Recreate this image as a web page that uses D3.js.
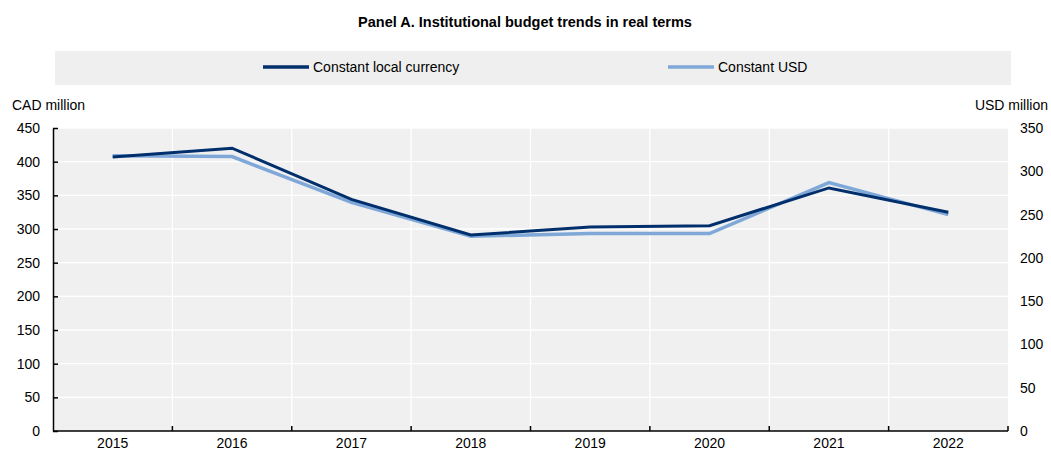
<!DOCTYPE html>
<html>
<head>
<meta charset="utf-8">
<script src="https://cdn.jsdelivr.net/npm/d3@7"></script>
<style>
  html, body { margin: 0; padding: 0; background: #fff; }
  svg { display: block; }
  text { font-family: "Liberation Sans Narrow", "Arial Narrow", "Liberation Sans", Arial, sans-serif; fill: #000; }
</style>
</head>
<body>
<svg id="chart" width="1051" height="452"></svg>
<script>
// Years on the x axis
const years = ["2015", "2016", "2017", "2018", "2019", "2020", "2021", "2022"];
// Institutional budget, constant local currency (CAD million, left axis)
const cadValues = [407, 420, 344, 291, 303, 305, 361, 325];
// Institutional budget, constant USD (USD million, right axis)
const usdValues = [318, 317, 264, 225, 228, 228, 287, 250];
// Axis tick values
const leftTicks = [0, 50, 100, 150, 200, 250, 300, 350, 400, 450];
const rightTicks = [0, 50, 100, 150, 200, 250, 300, 350];

const svg = d3.select("#chart");
const margin = { left: 53, right: 43, top: 128, bottom: 21 };
const W = 1051, H = 452;
const x0 = margin.left, x1 = W - margin.right;
const y0 = H - margin.bottom, y1 = margin.top;

const x = d3.scaleBand().domain(years).range([x0, x1]).padding(0);
const yL = d3.scaleLinear().domain([0, 450]).range([y0, y1]);
const yR = d3.scaleLinear().domain([0, 350]).range([y0, y1]);

// Title
svg.append("text")
  .attr("x", 525).attr("y", 27)
  .attr("text-anchor", "middle")
  .style("font-size", "14.5px").style("font-weight", "bold")
  .text("Panel A. Institutional budget trends in real terms");

// Legend
const legendItems = [
  { name: "Constant local currency", color: "#002f6c", x: 263 },
  { name: "Constant USD", color: "#7fa8d9", x: 668 }
];
svg.append("rect")
  .attr("x", 55).attr("y", 51).attr("width", 956).attr("height", 34)
  .attr("fill", "#efefef");
const lg = svg.selectAll(".lg").data(legendItems).enter().append("g");
lg.append("line")
  .attr("x1", d => d.x).attr("x2", d => d.x + 46)
  .attr("y1", 67).attr("y2", 67)
  .attr("stroke", d => d.color).attr("stroke-width", 3.5);
lg.append("text")
  .attr("x", d => d.x + 50).attr("y", 72)
  .style("font-size", "14px")
  .text(d => d.name);

// Plot background
svg.append("rect")
  .attr("x", x0).attr("y", y1).attr("width", x1 - x0).attr("height", y0 - y1)
  .attr("fill", "#f0f0f0");

// Horizontal gridlines
svg.append("g").selectAll("line").data(leftTicks.filter(d => d > 0)).enter().append("line")
  .attr("x1", x0).attr("x2", x1)
  .attr("y1", d => yL(d)).attr("y2", d => yL(d))
  .attr("stroke", "#fff").attr("stroke-width", 1.3);

// Vertical gridlines at category boundaries
const bounds = years.slice(1).map(d => x(d));
svg.append("g").selectAll("line").data(bounds).enter().append("line")
  .attr("x1", d => d).attr("x2", d => d)
  .attr("y1", y1).attr("y2", y0)
  .attr("stroke", "#fff").attr("stroke-width", 1.3);

// Left axis
const leftAxis = svg.append("g").attr("transform", `translate(${x0},0)`)
  .call(d3.axisLeft(yL).tickValues(leftTicks).tickSizeInner(-5).tickSizeOuter(0).tickPadding(13));
leftAxis.select(".domain").attr("stroke", "#000").attr("stroke-width", 1.5);
leftAxis.selectAll(".tick line").attr("stroke", "#000").attr("stroke-width", 1.5);
leftAxis.selectAll("text").style("font-size", "14px")
  .style("font-family", "'Liberation Sans Narrow', 'Arial Narrow', sans-serif").attr("fill", "#000");

// Right axis (labels only)
const rightAxis = svg.append("g").attr("transform", `translate(${x1},0)`)
  .call(d3.axisRight(yR).tickValues(rightTicks).tickSize(0).tickPadding(12));
rightAxis.select(".domain").remove();
rightAxis.selectAll("text").style("font-size", "14px")
  .style("font-family", "'Liberation Sans Narrow', 'Arial Narrow', sans-serif").attr("fill", "#000");

// Bottom axis: labels at band centres, ticks at band boundaries
const bottom = svg.append("g").attr("transform", `translate(0,${y0})`);
bottom.append("line").attr("x1", x0).attr("x2", x1).attr("y1", 0).attr("y2", 0)
  .attr("stroke", "#000").attr("stroke-width", 1.5);
bottom.selectAll(".bt").data(bounds.concat([x1])).enter().append("line")
  .attr("x1", d => d).attr("x2", d => d).attr("y1", 0).attr("y2", -5)
  .attr("stroke", "#000").attr("stroke-width", 1.5);
bottom.selectAll(".bl").data(years).enter().append("text")
  .attr("x", d => x(d) + x.bandwidth() / 2).attr("y", 17)
  .attr("text-anchor", "middle").style("font-size", "14px")
  .text(d => d);

// Axis unit labels
svg.append("text").attr("x", 12).attr("y", 110).style("font-size", "14px").text("CAD million");
svg.append("text").attr("x", 1048).attr("y", 110).attr("text-anchor", "end").style("font-size", "14px").text("USD million");

// Lines
const cx = d => x(d) + x.bandwidth() / 2;
const lineL = d3.line().x((d, i) => cx(years[i])).y(d => yL(d));
const lineR = d3.line().x((d, i) => cx(years[i])).y(d => yR(d));

svg.append("path").datum(usdValues).attr("d", lineR)
  .attr("fill", "none").attr("stroke", "#7fa8d9").attr("stroke-width", 3.5);
svg.append("path").datum(cadValues).attr("d", lineL)
  .attr("fill", "none").attr("stroke", "#002f6c").attr("stroke-width", 3);
</script>
</body>
</html>
